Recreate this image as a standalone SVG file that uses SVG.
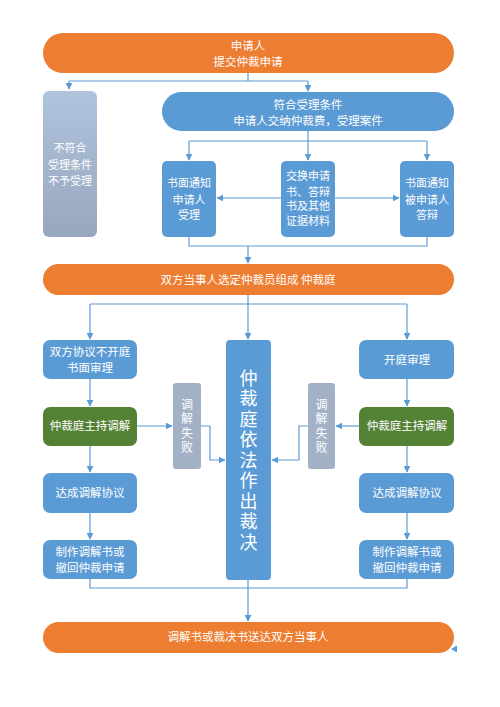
<svg xmlns="http://www.w3.org/2000/svg" width="500" height="707" viewBox="0 0 500 707">
<defs>
<linearGradient id="gg" x1="0" y1="0" x2="0" y2="1">
<stop offset="0" stop-color="#b0c3dd"/>
<stop offset="1" stop-color="#97a7be"/>
</linearGradient>
<marker id="ah" viewBox="0 0 10 10" refX="9" refY="5" markerWidth="7" markerHeight="7" markerUnits="userSpaceOnUse" orient="auto">
<path d="M0,0 L10,5 L0,10 z" fill="#5b9bd5"/>
</marker>
<style>
.or{fill:#ed7d31}
.bl{fill:#5b9bd5}
.gr{fill:#548235}
.gy{fill:#a3b1c6}
.t{font-family:"Noto Sans CJK SC","Noto Sans",sans-serif;fill:#fff;font-size:11.5px;text-anchor:middle}
.n{font-size:11px}
.v{writing-mode:vertical-rl;text-orientation:upright}
.big{font-size:18px;letter-spacing:2.5px}
.sm{font-size:12px;letter-spacing:2.3px}
.c{fill:none;stroke:#5b9bd5;stroke-width:1.2}
</style>
</defs>
<rect width="500" height="707" fill="#fff"/>
<g id="connectors">
<path class="c" d="M248,73 V81 M69,81 H308 M69,81 V89" marker-end="url(#ah)"/>
<path class="c" d="M308,81 V91" marker-end="url(#ah)"/>
<path class="c" d="M308,131 V141 M189,141 H427 M189,141 V160" marker-end="url(#ah)"/>
<path class="c" d="M308,141 V160" marker-end="url(#ah)"/>
<path class="c" d="M427,141 V160" marker-end="url(#ah)"/>
<path class="c" d="M281,198 H217" marker-end="url(#ah)"/>
<path class="c" d="M335,198 H399" marker-end="url(#ah)"/>
<path class="c" d="M189,237 V246 H427 V237 M248,246 V263" marker-end="url(#ah)"/>
<path class="c" d="M248,295 V304 M90,304 H407 M90,304 V339" marker-end="url(#ah)"/>
<path class="c" d="M248,304 V339" marker-end="url(#ah)"/>
<path class="c" d="M407,304 V339" marker-end="url(#ah)"/>
<path class="c" d="M90,379 V406" marker-end="url(#ah)"/>
<path class="c" d="M407,379 V406" marker-end="url(#ah)"/>
<path class="c" d="M137,426 H172" marker-end="url(#ah)"/>
<path class="c" d="M359,426 H336" marker-end="url(#ah)"/>
<path class="c" d="M201,426 H210 V460 H225" marker-end="url(#ah)"/>
<path class="c" d="M308,426 H299 V460 H272" marker-end="url(#ah)"/>
<path class="c" d="M90,446 V472" marker-end="url(#ah)"/>
<path class="c" d="M407,446 V472" marker-end="url(#ah)"/>
<path class="c" d="M90,513 V539" marker-end="url(#ah)"/>
<path class="c" d="M407,513 V539" marker-end="url(#ah)"/>
<path class="c" d="M90,579 V588 H407 V579 M248,580 V621" marker-end="url(#ah)"/>
<path d="M451,649 L457,645.5 L457,652.5 z" fill="#5b9bd5"/>
</g>
<g id="n1">
<rect class="or" x="43" y="33" width="411" height="40" rx="20"/>
<text class="t" x="248" y="50">申请人<tspan x="248" dy="16">提交仲裁申请</tspan></text>
</g>
<g id="n2">
<rect x="43" y="91" width="54" height="146" rx="6" fill="url(#gg)"/>
<text class="t n" x="70" y="152">不符合<tspan x="70" dy="16.5">受理条件</tspan><tspan x="70" dy="16">不予受理</tspan></text>
</g>
<g id="n3">
<rect class="bl" x="162" y="92" width="292" height="39" rx="19.5"/>
<text class="t" x="308" y="109">符合受理条件<tspan x="308" dy="15.5">申请人交纳仲裁费，受理案件</tspan></text>
</g>
<g id="n4">
<rect class="bl" x="162" y="161" width="54" height="76" rx="5"/>
<text class="t n" x="189" y="187">书面通知<tspan x="189" dy="16.5">申请人</tspan><tspan x="189" dy="15.5">受理</tspan></text>
</g>
<g id="n5">
<rect class="bl" x="281" y="161" width="54" height="76" rx="5"/>
<text class="t n" x="308" y="180">交换申请<tspan x="308" dy="15.5">书、答辩</tspan><tspan x="308" dy="14.5">书及其他</tspan><tspan x="308" dy="15">证据材料</tspan></text>
</g>
<g id="n6">
<rect class="bl" x="400" y="161" width="54" height="76" rx="5"/>
<text class="t n" x="427" y="187">书面通知<tspan x="427" dy="16.5">被申请人</tspan><tspan x="427" dy="15.5">答辩</tspan></text>
</g>
<g id="n7">
<rect class="or" x="43" y="264" width="411" height="31" rx="15.5"/>
<text class="t" x="248" y="284">双方当事人选定仲裁员组成 仲裁庭</text>
</g>
<g id="n8">
<rect class="bl" x="43" y="340" width="94" height="39" rx="7"/>
<text class="t" x="90" y="356">双方协议不开庭<tspan x="90" dy="15.5">书面审理</tspan></text>
</g>
<g id="n9">
<rect class="bl" x="226" y="340" width="45" height="240" rx="4"/>
<text class="t v big" x="248.5" y="461">仲裁庭依法作出裁决</text>
</g>
<g id="n10">
<rect class="bl" x="359" y="340" width="95" height="39" rx="7"/>
<text class="t" x="407" y="364">开庭审理</text>
</g>
<g id="n11">
<rect class="gr" x="43" y="407" width="94" height="39" rx="7"/>
<text class="t" x="90" y="430">仲裁庭主持调解</text>
</g>
<g id="n12">
<rect class="gy" x="173" y="383" width="28" height="86" rx="3"/>
<text class="t v sm" x="187" y="427">调解失败</text>
</g>
<g id="n13">
<rect class="gy" x="308" y="383" width="27" height="86" rx="3"/>
<text class="t v sm" x="321.5" y="427">调解失败</text>
</g>
<g id="n14">
<rect class="gr" x="359" y="407" width="95" height="39" rx="7"/>
<text class="t" x="407" y="430">仲裁庭主持调解</text>
</g>
<g id="n15">
<rect class="bl" x="43" y="473" width="94" height="40" rx="7"/>
<text class="t" x="90" y="497">达成调解协议</text>
</g>
<g id="n16">
<rect class="bl" x="359" y="473" width="95" height="40" rx="7"/>
<text class="t" x="407" y="497">达成调解协议</text>
</g>
<g id="n17">
<rect class="bl" x="43" y="540" width="94" height="39" rx="7"/>
<text class="t" x="90" y="556">制作调解书或<tspan x="90" dy="16">撤回仲裁申请</tspan></text>
</g>
<g id="n18">
<rect class="bl" x="359" y="540" width="95" height="39" rx="7"/>
<text class="t" x="407" y="556">制作调解书或<tspan x="407" dy="16">撤回仲裁申请</tspan></text>
</g>
<g id="n19">
<rect class="or" x="43" y="622" width="411" height="31" rx="15.5"/>
<text class="t" x="248" y="641">调解书或裁决书送达双方当事人</text>
</g>
</svg>
